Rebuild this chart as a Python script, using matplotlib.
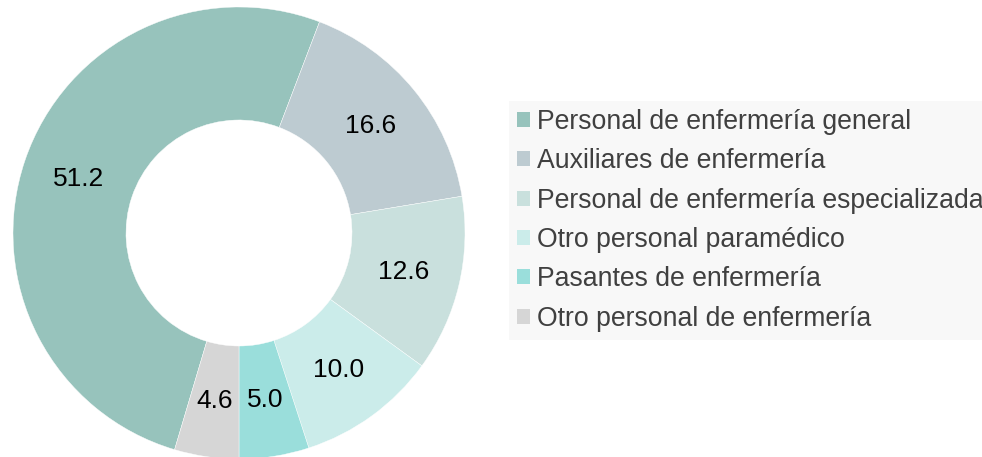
import numpy as np
import matplotlib
matplotlib.use("Agg")
import matplotlib.pyplot as plt

categories = ["Personal de enfermería general", "Auxiliares de enfermería",
              "Personal de enfermería especializada", "Otro personal paramédico",
              "Pasantes de enfermería", "Otro personal de enfermería"]
values = [51.2, 16.6, 12.6, 10.0, 5.0, 4.6]
colors = ["#97c3bc", "#bdcbd1", "#c9e0dd", "#cbecea", "#9adedb", "#d6d6d6"]

plt.rcParams['font.family'] = ['Liberation Sans', 'DejaVu Sans']

W, H = 982, 457
fig = plt.figure(figsize=(W / 100, H / 100), dpi=100)

cx, cy, R = 239, H - 233, 226
ax = fig.add_axes([(cx - R) / W, (cy - R) / H, 2 * R / W, 2 * R / H])
ax.set_xlim(-1, 1)
ax.set_ylim(-1, 1)
ax.set_aspect('equal')
ax.axis('off')

start = -90 - 360 * values[-1] / sum(values)
wedges, _ = ax.pie(values, colors=colors, startangle=start, counterclock=False,
                   radius=1, wedgeprops=dict(width=0.5, edgecolor='white', linewidth=0.3),
                   frame=False)
for w, v in zip(wedges, values):
    th = np.deg2rad((w.theta1 + w.theta2) / 2)
    r = 0.75
    ax.text(r * np.cos(th), r * np.sin(th), f"{v:.1f}", ha='center', va='center',
            fontsize=19, color='black')
ax.set_xlim(-1, 1)
ax.set_ylim(-1, 1)

leg = fig.legend(wedges, categories, loc='upper left',
                 bbox_to_anchor=(509 / W, 1 - 101 / H),
                 fontsize=19.2, frameon=True, fancybox=False, framealpha=1,
                 facecolor='#f8f8f8', edgecolor='none',
                 handlelength=0.5, handleheight=0.5, handletextpad=0.25,
                 labelspacing=0.5, borderpad=0.3, borderaxespad=0)
for t in leg.get_texts():
    t.set_color('#404040')
for h in leg.legend_handles:
    h.set_edgecolor('none')

fig.savefig("out.png", dpi=100)
